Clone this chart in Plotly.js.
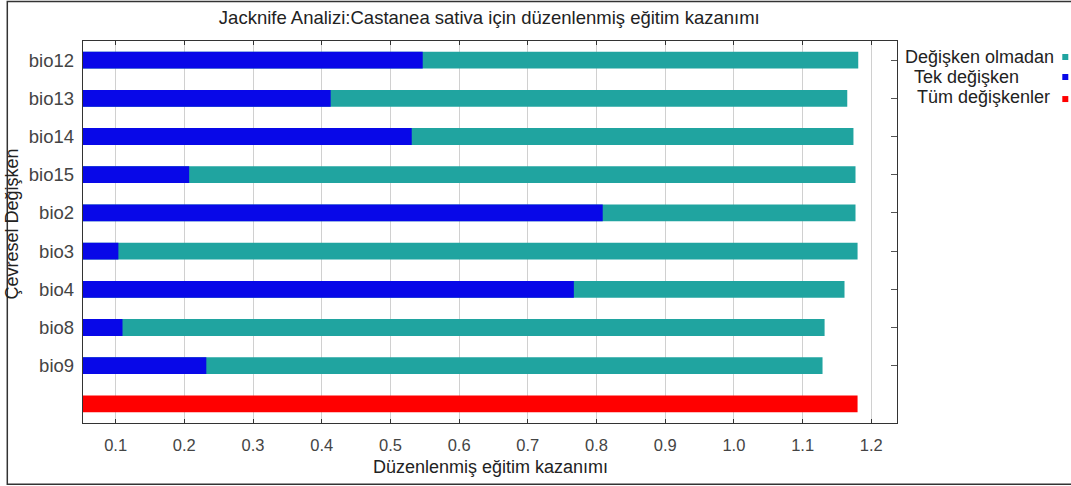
<!DOCTYPE html>
<html>
<head>
<meta charset="utf-8">
<script src="https://cdn.plot.ly/plotly-3.0.1.min.js"></script>
<style>
html,body{margin:0;padding:0;background:#fff;}
#chart{width:1071px;height:486px;}
</style>
</head>
<body>
<div id="chart"></div>
<script>
var categories = ['bio12','bio13','bio14','bio15','bio2','bio3','bio4','bio8','bio9'];
var allCategory = 'all';
var withoutVariable = [1.181, 1.165, 1.174, 1.177, 1.177, 1.180, 1.161, 1.132, 1.129];
var onlyVariable = [0.547, 0.413, 0.531, 0.207, 0.809, 0.104, 0.767, 0.110, 0.232];
var allVariables = [1.180];
var xTicks = [0.1,0.2,0.3,0.4,0.5,0.6,0.7,0.8,0.9,1.0,1.1,1.2];
var xTickText = ['0.1','0.2','0.3','0.4','0.5','0.6','0.7','0.8','0.9','1.0','1.1','1.2'];
var legendNames = ['Değişken olmadan','Tek değişken','Tüm değişkenler'];

var teal = '#20a4a0', blue = '#0808e8', red = '#ff0000';
var FONT = 'Liberation Sans, Arial, sans-serif';
var allCats = categories.concat([allCategory]);

var traces = [
  {type:'bar', orientation:'h', y:categories, x:withoutVariable, base:0, width:0.44,
   marker:{color:teal, line:{width:0}}, name:legendNames[0], hoverinfo:'x+y'},
  {type:'bar', orientation:'h', y:categories, x:onlyVariable, base:0, width:0.44,
   marker:{color:blue, line:{width:0}}, name:legendNames[1], hoverinfo:'x+y'},
  {type:'bar', orientation:'h', y:[allCategory], x:allVariables, base:0, width:0.44,
   marker:{color:red, line:{width:0}}, name:legendNames[2], hoverinfo:'x'},
  {type:'scatter', mode:'markers', y:allCats, x:allCats.map(function(){return 0.6;}),
   yaxis:'y2', marker:{opacity:0}, hoverinfo:'skip', showlegend:false}
];

var L = 82.7, R = 896.7, T = 41, B = 422.7;
var W = 1071, H = 486;
var pw = R - L, ph = B - T;
function px(x){return (x - L)/pw;}
function py(y){return (B - y)/ph;}

var legendColors = [teal, blue, red];
var legendX = [903, 912, 915];
var legendY = [57, 77, 97];
var squareY = [57, 77, 99];
var annotations = [];
var shapes = [];
for (var i=0;i<3;i++){
  annotations.push({xref:'paper', yref:'paper', x:px(legendX[i]), y:py(legendY[i]),
    xanchor:'left', yanchor:'middle', text:legendNames[i], showarrow:false,
    font:{family:FONT, size:18, color:'#222'}});
  shapes.push({type:'rect', xref:'paper', yref:'paper',
    x0:px(1062), x1:px(1068), y0:py(squareY[i]+3), y1:py(squareY[i]-3),
    fillcolor:legendColors[i], line:{width:0}});
}
annotations.push({xref:'paper', yref:'paper', x:px(12), y:py(224),
  xanchor:'center', yanchor:'middle', textangle:-90, text:'Çevresel Değişken', showarrow:false,
  font:{family:FONT, size:18, color:'#222'}});
annotations.push({xref:'paper', yref:'paper', x:0.5, y:py(467),
  xanchor:'center', yanchor:'middle', text:'Düzenlenmiş eğitim kazanımı', showarrow:false,
  font:{family:FONT, size:18, color:'#222'}});
shapes.push({type:'rect', xref:'paper', yref:'paper', layer:'above',
  x0:px(7), x1:px(1080), y0:py(1.5), y1:py(484), line:{color:'#333', width:1.5}, fillcolor:'rgba(0,0,0,0)'});

var layout = {
  width:W, height:H,
  margin:{l:L, r:W-R, t:T, b:H-B, pad:0},
  paper_bgcolor:'#fff', plot_bgcolor:'#fff',
  barmode:'overlay',
  showlegend:false,
  title:{text:'Jacknife Analizi:Castanea sativa için düzenlenmiş eğitim kazanımı',
    x:px(489), xanchor:'center', y:1-18/H, yanchor:'middle', xref:'paper',
    font:{family:FONT, size:18.5, color:'#222'}},
  xaxis:{range:[0.0525,1.2374], tickmode:'array', tickvals:xTicks, ticktext:xTickText,
    ticks:'inside', ticklen:4, tickcolor:'#333', tickwidth:1, mirror:'ticks',
    showline:true, linecolor:'#333', linewidth:1.2,
    showgrid:true, gridcolor:'#d0d0d0', gridwidth:1, zeroline:false,
    ticklabelstandoff:7,
    tickfont:{family:FONT, size:16.5, color:'#444'}},
  yaxis:{type:'category', categoryorder:'array', categoryarray:allCats.slice().reverse(),
    range:[-0.5, 9.5], tickmode:'array', tickvals:categories, ticktext:categories,
    ticks:'', showline:true, linecolor:'#333', linewidth:1.2, mirror:true,
    showgrid:false, zeroline:false, ticklabelstandoff:4,
    tickfont:{family:FONT, size:18.5, color:'#444'}},
  yaxis2:{type:'category', overlaying:'y', side:'right', matches:'y',
    categoryorder:'array', categoryarray:allCats.slice().reverse(),
    tickmode:'array', tickvals:categories, showticklabels:false,
    ticks:'inside', ticklen:6, tickcolor:'#555', showgrid:false, showline:false, zeroline:false},
  annotations:annotations,
  shapes:shapes
};

Plotly.newPlot('chart', traces, layout, {displayModeBar:false, staticPlot:true});
</script>
</body>
</html>
